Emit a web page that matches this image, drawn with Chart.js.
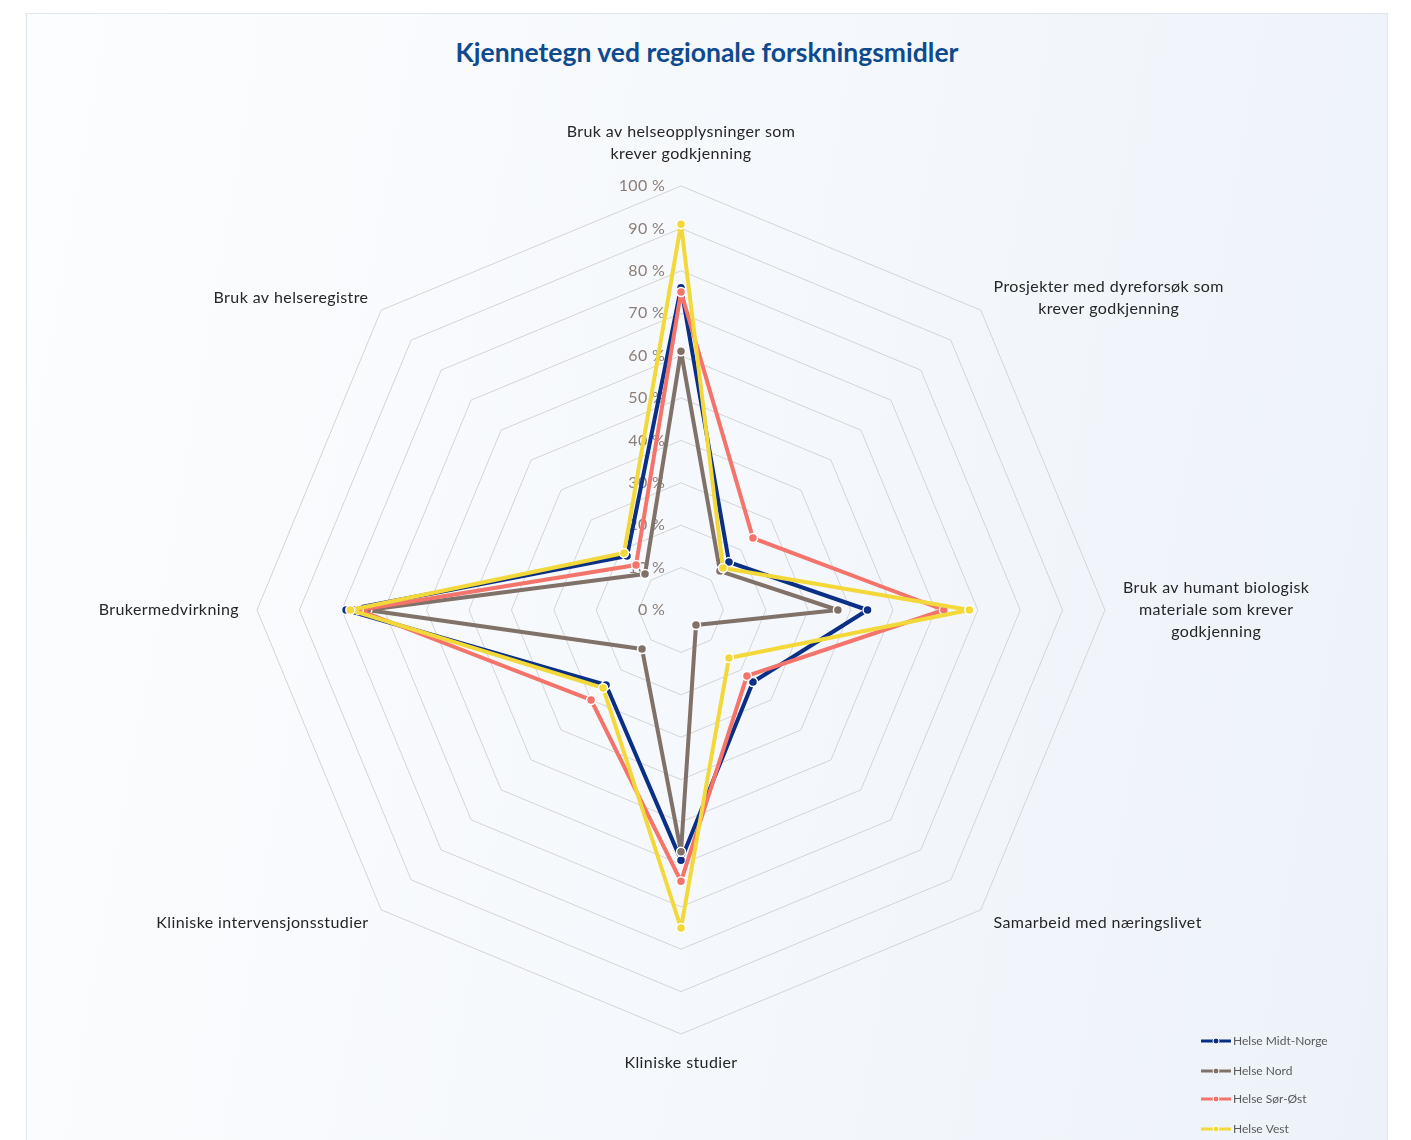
<!DOCTYPE html>
<html>
<head>
<meta charset="utf-8">
<script src="https://cdn.jsdelivr.net/npm/chart.js@4.4.0/dist/chart.umd.min.js"></script>
<style>
  html, body { margin: 0; padding: 0; background: #ffffff; }
  #panel {
    position: absolute; left: 26px; top: 13px; width: 1360px; height: 1140px;
    border: 1px solid #dde5ef;
    background: linear-gradient(100deg, #fcfdfe 0%, #f5f8fc 50%, #edf2f9 100%);
  }
  #title {
    position: absolute; left: 26px; top: 36px; width: 1362px; text-align: center;
    font: bold 26.5px Lato, sans-serif; color: #0f4a8e;
  }
  #chart { position: absolute; left: 0; top: 0; }
</style>
</head>
<body>
<div id="panel"></div>
<div id="title">Kjennetegn ved regionale forskningsmidler</div>
<canvas id="chart" width="1411" height="1140"></canvas>
<script>
// kategorier (med linjeskift som i originalen)
const categories = [
  ['Bruk av helseopplysninger som', 'krever godkjenning'],
  ['Prosjekter med dyreforsøk som', 'krever godkjenning'],
  ['Bruk av humant biologisk', 'materiale som krever', 'godkjenning'],
  'Samarbeid med næringslivet',
  'Kliniske studier',
  'Kliniske intervensjonsstudier',
  'Brukermedvirkning',
  'Bruk av helseregistre'
];

// verdier i prosent
const midtNorge = [76, 16, 44, 24, 59, 25, 79, 18];
const nord      = [61, 13, 37, 5, 57, 13, 74, 12];
const sorOst    = [75, 24, 62, 22, 64, 30, 76, 15];
const vest      = [91, 14, 68, 16, 75, 26, 78, 19];

const tickValues = [0, 10, 20, 30, 40, 50, 60, 70, 80, 90, 100];

const seriesNames = ['Helse Midt-Norge', 'Helse Nord', 'Helse Sør-Øst', 'Helse Vest'];
const seriesColors = ['#0a2f86', '#807169', '#f4736a', '#f3d83a'];

const FONT = 'Lato, "Open Sans", sans-serif';

function makeSet(i, values) {
  return {
    label: seriesNames[i],
    data: values,
    borderColor: seriesColors[i],
    backgroundColor: seriesColors[i],
    pointBackgroundColor: seriesColors[i],
    pointBorderColor: '#ffffff',
    pointBorderWidth: 1.5,
    pointRadius: 4.5,
    borderWidth: 4,
    borderJoinStyle: 'round',
    fill: false,
    order: 3 - i // siste serie tegnes øverst, som i Excel
  };
}

// tegner aksetekster, tick-etiketter og forklaring
const labelsPlugin = {
  id: 'labelsPlugin',
  beforeDatasetsDraw(chart) {
    const scale = chart.scales.r;
    const ctx = chart.ctx;
    ctx.save();
    ctx.font = '16px ' + FONT;
    ctx.letterSpacing = '0.3px';
    ctx.fillStyle = '#8b7e77';
    ctx.textAlign = 'right';
    ctx.textBaseline = 'middle';
    tickValues.forEach(v => {
      const y = scale.yCenter - scale.getDistanceFromCenterForValue(v);
      ctx.fillText(v + ' %', scale.xCenter - 16, y);
    });
    ctx.restore();
  },
  afterDraw(chart) {
    const scale = chart.scales.r;
    const ctx = chart.ctx;
    ctx.save();
    ctx.font = '16px ' + FONT;
    ctx.letterSpacing = '0.4px';
    ctx.fillStyle = '#262626';
    ctx.textAlign = 'center';
    ctx.textBaseline = 'middle';
    const lh = 22;
    chart.data.labels.forEach((lab, i) => {
      const lines = Array.isArray(lab) ? lab : [lab];
      const p = scale.getPointPosition(i, scale.drawingArea + 18);
      const w = Math.max(...lines.map(l => ctx.measureText(l).width));
      const h = lines.length * lh;
      const dx = p.x - scale.xCenter;
      const dy = p.y - scale.yCenter;
      let cx, top;
      if (Math.abs(dx) < 1) {
        cx = p.x;
        top = dy < 0 ? p.y - h - 3 : p.y;
      } else {
        cx = dx > 0 ? p.x + w / 2 : p.x - w / 2;
        top = p.y - h / 2;
      }
      lines.forEach((l, k) => ctx.fillText(l, cx, top + lh * k + lh / 2));
    });

    // forklaring nede til høyre
    ctx.font = '12px ' + FONT;
    ctx.letterSpacing = '0px';
    ctx.textAlign = 'left';
    const ys = [1041, 1071, 1099, 1129];
    chart.data.datasets.forEach((ds, i) => {
      const y = ys[i];
      ctx.strokeStyle = ds.borderColor;
      ctx.lineWidth = 3;
      ctx.beginPath();
      ctx.moveTo(1201, y);
      ctx.lineTo(1231, y);
      ctx.stroke();
      ctx.beginPath();
      ctx.arc(1216, y, 3, 0, Math.PI * 2);
      ctx.fillStyle = ds.borderColor;
      ctx.fill();
      ctx.lineWidth = 1;
      ctx.strokeStyle = '#ffffff';
      ctx.stroke();
      ctx.fillStyle = '#595959';
      ctx.fillText(ds.label, 1233, y);
    });
    ctx.restore();
  }
};

const ctx = document.getElementById('chart').getContext('2d');

new Chart(ctx, {
  type: 'radar',
  data: {
    labels: categories,
    datasets: [
      makeSet(0, midtNorge),
      makeSet(1, nord),
      makeSet(2, sorOst),
      makeSet(3, vest)
    ]
  },
  options: {
    responsive: false,
    animation: false,
    layout: {
      padding: { left: 257, right: 306, top: 186, bottom: 106 }
    },
    elements: {
      line: { tension: 0 }
    },
    plugins: {
      legend: { display: false },
      title: { display: false },
      tooltip: {
        callbacks: {
          label: c => c.dataset.label + ': ' + c.raw + ' %'
        }
      }
    },
    scales: {
      r: {
        min: 0,
        max: 100,
        ticks: { stepSize: 10, display: false },
        grid: { color: '#d4d4d4', lineWidth: 1, circular: false },
        angleLines: { display: false },
        pointLabels: { display: false }
      }
    }
  },
  plugins: [labelsPlugin]
});
</script>
</body>
</html>
